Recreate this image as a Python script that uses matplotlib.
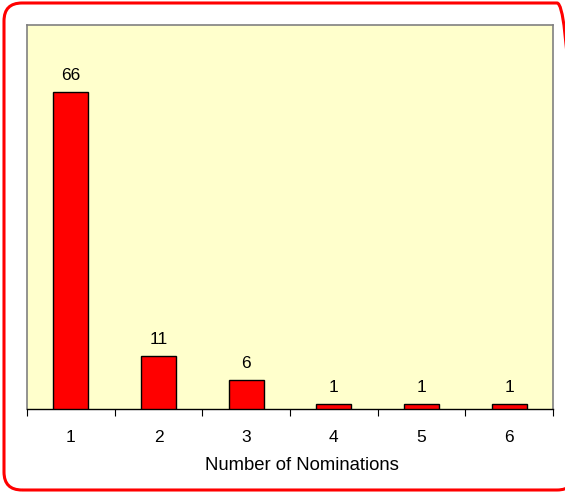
import matplotlib
matplotlib.use("Agg")
import matplotlib.pyplot as plt
from matplotlib.patches import FancyBboxPatch

plt.rcParams['font.family'] = ['Liberation Sans', 'DejaVu Sans']

categories = ["1", "2", "3", "4", "5", "6"]
counts = [66, 11, 6, 1, 1, 1]

W, H = 565, 492
fig = plt.figure(figsize=(W / 100, H / 100), dpi=100)

# rounded red frame around the whole chart (pixel coordinates, origin bottom-left)
frame = FancyBboxPatch((4, H - 490), 575 - 4, 490 - 3,
                       boxstyle="round,pad=0,rounding_size=18",
                       transform=None, facecolor="none",
                       edgecolor="#ff0000", linewidth=2.2, clip_on=False)
fig.patches.append(frame)

left, right, top, bottom = 27, 553, 25, 409
ax = fig.add_axes([left / W, 1 - bottom / H, (right - left) / W, (bottom - top) / H])
ax.set_facecolor("#ffffcc")

x = list(range(len(categories)))
bars = ax.bar(x, counts, width=0.4, color="#ff0000", edgecolor="black", linewidth=1.0, zorder=3)
for xi, v in zip(x, counts):
    ax.text(xi, v + 2.0, str(v), ha="center", va="bottom", fontsize=12.5)

ax.set_xlim(-0.5, len(categories) - 0.5)
ax.set_ylim(0, 80)
ax.set_yticks([])

# ticks sit at category boundaries; labels are centred on bars
ax.set_xticks([i - 0.5 for i in range(len(categories) + 1)])
ax.set_xticklabels([])
ax.set_xticks(x, minor=True)
ax.set_xticklabels(categories, minor=True, fontsize=12.5)
ax.tick_params(axis="x", which="major", length=5, width=0.8, color="black", direction="out")
ax.tick_params(axis="x", which="minor", length=0, pad=15)

for side in ("left", "top", "right"):
    ax.spines[side].set_color("#808080")
    ax.spines[side].set_linewidth(1.2)
ax.spines["bottom"].set_color("black")
ax.spines["bottom"].set_linewidth(1.0)

ax.set_xlabel("Number of Nominations", fontsize=13.3)
ax.xaxis.set_label_coords(0.523, -0.125)

fig.savefig("out.png", dpi=100)
